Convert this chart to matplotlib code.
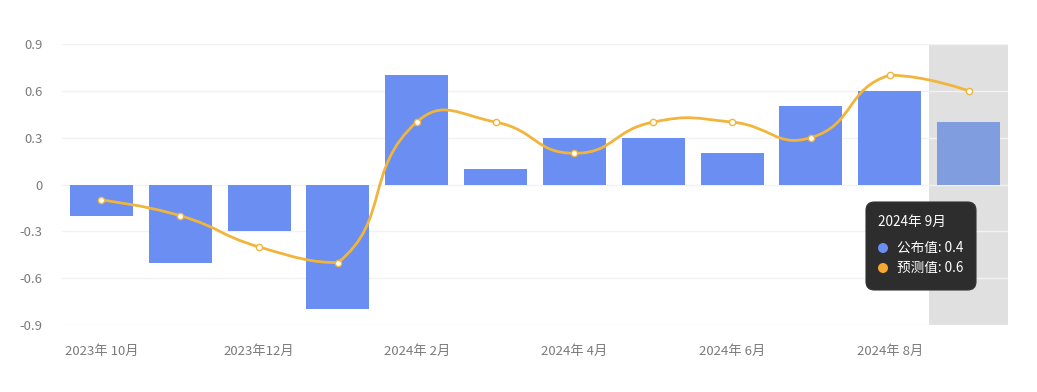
import matplotlib
matplotlib.use('Agg')
import matplotlib.pyplot as plt
from matplotlib.path import Path
from matplotlib.patches import PathPatch, FancyBboxPatch, Circle

plt.rcParams['font.family'] = ['Noto Sans CJK SC', 'DejaVu Sans']

# 数据
months = ['2023年 10月', '2023年 11月', '2023年12月', '2024年 1月', '2024年 2月', '2024年 3月',
          '2024年 4月', '2024年 5月', '2024年 6月', '2024年 7月', '2024年 8月', '2024年 9月']
published = [-0.2, -0.5, -0.3, -0.8, 0.7, 0.1, 0.3, 0.3, 0.2, 0.5, 0.6, 0.4]
forecast = [-0.1, -0.2, -0.4, -0.5, 0.4, 0.4, 0.2, 0.4, 0.4, 0.3, 0.7, 0.6]
yticks = [-0.9, -0.6, -0.3, 0, 0.3, 0.6, 0.9]
ytick_labels = ['-0.9', '-0.6', '-0.3', '0', '0.3', '0.6', '0.9']
hover_idx = 11

W, H = 1037, 392
fig = plt.figure(figsize=(W / 100, H / 100), dpi=100)
L, R, T, B = 62, 1008, 44, 325
ax = fig.add_axes([L / W, 1 - B / H, (R - L) / W, (B - T) / H])

n = len(months)
x = list(range(n))
ax.set_xlim(-0.5, n - 0.5)
ax.set_ylim(-0.9, 0.9)

# 高亮区域
ax.axvspan(hover_idx - 0.5, hover_idx + 0.5, color='#e0e0e0', zorder=0, lw=0)

# 网格
for yv in yticks:
    ax.axhline(yv, color='#f2f2f2', lw=1, zorder=0.5)

bar_colors = ['#6a8ef2'] * n
bar_colors[hover_idx] = '#7f9ddf'
ax.bar(x, published, width=0.8, color=bar_colors, zorder=2)

# 平滑曲线（控制点限制在数据范围内）
sx = (R - L) / n
sy = (B - T) / 1.8
pts = [(xi * sx, yi * sy) for xi, yi in zip(x, forecast)]
ymin, ymax = min(forecast) * sy, max(forecast) * sy
xmin, xmax = 0, (n - 1) * sx


def clamp(p):
    return (min(max(p[0], xmin), xmax), min(max(p[1], ymin), ymax))


smooth = 0.5
verts = [pts[0]]
codes = [Path.MOVETO]
cp0 = pts[0]
for k in range(1, n):
    px, py = pts[k - 1]
    cx, cy = pts[k]
    if k == n - 1:
        vx = vy = 0
        ratio = 0.5
        nxt = (cx, cy)
    else:
        nx, ny = pts[k + 1]
        vx, vy = nx - px, ny - py
        l0 = ((cx - px) ** 2 + (cy - py) ** 2) ** 0.5
        l1 = ((nx - cx) ** 2 + (ny - cy) ** 2) ** 0.5
        ratio = l1 / (l0 + l1)
        nxt = clamp((cx + vx * smooth * ratio, cy + vy * smooth * ratio))
    cp1 = clamp((cx - vx * smooth * (1 - ratio), cy - vy * smooth * (1 - ratio)))
    verts += [cp0, cp1, (cx, cy)]
    codes += [Path.CURVE4] * 3
    cp0 = nxt
verts = [(a / sx, b / sy) for a, b in verts]
ax.add_patch(PathPatch(Path(verts, codes), fill=False, edgecolor='#f2b53c', lw=2, zorder=3))
ax.plot(x, forecast, linestyle='none', marker='o', markersize=4.5, markerfacecolor='white',
        markeredgecolor='#f2b53c', markeredgewidth=1, zorder=4)

# 坐标轴
for s in ax.spines.values():
    s.set_visible(False)
ax.set_yticks(yticks)
ax.set_yticklabels(ytick_labels)
ax.set_xticks(x[::2])
ax.set_xticklabels(months[::2])
ax.tick_params(axis='both', length=0, labelsize=9.5, colors='#7a7a7a')
ax.tick_params(axis='y', pad=14)
ax.tick_params(axis='x', pad=14)


def fx(p):
    return p / W


def fy(p):
    return 1 - p / H


# 提示框
box = FancyBboxPatch((fx(866), fy(290)), fx(976) - fx(866), fy(202) - fy(290),
                     boxstyle='round,pad=0,rounding_size=0.008', transform=fig.transFigure,
                     facecolor='#2d2d2d', edgecolor='#333333', lw=0.8, zorder=10, mutation_aspect=W / H)
fig.patches.append(box)
fig.text(fx(878), fy(222), months[hover_idx], color='white', fontsize=9.8, va='center', zorder=11)
fig.patches.append(Circle((883, H - 248), 5, transform=None, facecolor='#6a8ef2', zorder=11))
fig.patches.append(Circle((883, H - 268), 5, transform=None, facecolor='#f7a832', zorder=11))
fig.text(fx(897), fy(248), '公布值: %.1f' % published[hover_idx], color='white', fontsize=9.8, va='center', zorder=11)
fig.text(fx(897), fy(268), '预测值: %.1f' % forecast[hover_idx], color='white', fontsize=9.8, va='center', zorder=11)

fig.savefig('out.png', dpi=100)
